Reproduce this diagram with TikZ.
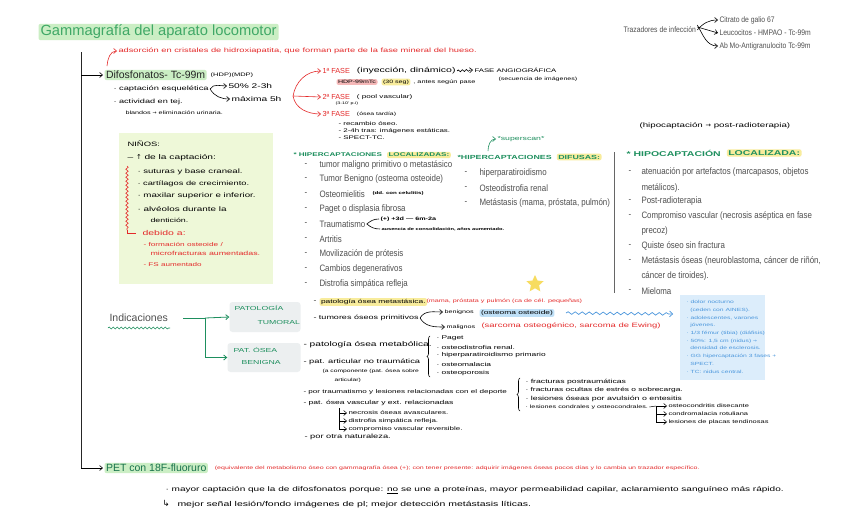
\documentclass[tikz,border=0pt]{standalone}
\usepackage{fontspec}
\setmainfont{Liberation Sans}
\newfontfamily\hand[FakeStretch=1.5]{Liberation Sans}
\newfontfamily\prnt[FakeStretch=0.85]{Liberation Sans}
\newfontfamily\dejavu{DejaVu Sans}
\usetikzlibrary{arrows.meta,decorations.pathmorphing,decorations.pathreplacing,shapes.geometric}
\definecolor{tgreen}{HTML}{1E8F5E}
\definecolor{ttitle}{HTML}{3FA866}
\definecolor{lgreen}{HTML}{CBEEC4}
\definecolor{tred}{HTML}{E42A2A}
\definecolor{tgray}{HTML}{4F4F4F}
\definecolor{nbg}{HTML}{EEF8D8}
\definecolor{bxgray}{HTML}{ECEFF0}
\definecolor{hyel}{HTML}{F8EC9C}
\definecolor{hblue}{HTML}{BFE0F7}
\definecolor{bbg}{HTML}{DCEDFB}
\definecolor{tblue}{HTML}{4A96DC}
\definecolor{hpink}{HTML}{F5B8B8}
\definecolor{starc}{HTML}{F7DC60}
\newcommand{\myfs}[1]{\fontsize{#1}{#1}\selectfont}
\newcommand{\myfsb}[2]{\fontsize{#1}{#2}\selectfont}
\newcommand{\arw}{{\dejavu →}}
\begin{document}
\begin{tikzpicture}[x=1pt,y=-1pt,
  lbl/.style={anchor=west,inner sep=0pt,outer sep=1.5pt},
  gtxt/.style={lbl,text=tgray,font=\prnt\myfs{9.3}},
  hw/.style={lbl,text=black,font=\hand\myfs{#1}},
  hw/.default=5,
  hwr/.style={lbl,text=tred,font=\hand\myfs{#1}},
  hwr/.default=5,
  hwg/.style={lbl,text=tgreen,font=\hand\myfs{#1}},
  hwg/.default=5,
  hwgb/.style={lbl,text=tgreen,font=\hand\bfseries\myfs{#1}},
  hwgb/.default=6,
  hlt/.style={fill=#1,rounded corners=2pt,inner xsep=1.5pt,inner ysep=1.2pt},
  arr/.style={-{Straight Barb[length=3pt,width=5pt]},line width=0.6pt},
  rarr/.style={arr,draw=tred},
  garr/.style={arr,draw=tgreen},
  bull/.style={lbl,text=tgray,font=\prnt\myfs{9.3}},
  gsmall/.style={lbl,text=tgray,font=\prnt\myfs{8}}
]
\useasboundingbox (0,0) rectangle (848,530);
\fill[white] (0,0) rectangle (848,530);

% ---------- title
\node[lbl,font=\myfs{14.7},text=ttitle,hlt=lgreen,inner xsep=2pt] (title) at (37,32) {Gammagrafía del aparato locomotor};

% ---------- main black line
\coordinate (ltop) at (81,52);
\coordinate (ldif) at (81,75);
\coordinate (lpet) at (81,468);
\draw[line width=0.8pt,black!85] (ltop) -- (lpet);

% ---------- difosfonatos
\node[lbl,font=\myfs{10.5},text=black!85,hlt=lgreen] (difos) at (103,75) {Difosfonatos- Tc-99m};
\node[hw=5] (hdp) at ([xshift=1pt]difos.east) {(HDP)(MDP)};
\draw[arr] (ldif) -- (difos.west);
\node[hwr=6.2] (adsor) at (117,51) {adsorción en cristales de hidroxiapatita, que forman parte de la fase mineral del hueso.};
\coordinate (adsor0) at (107,66);
\draw[rarr] (adsor0) to[out=85,in=180] (adsor.west);

\node[hw=6.2] (cap) at (112,89) {· captación esquelética};
\node[hw=6.8] (p50) at (227,86) {50\% 2-3h};
\node[hw=6.8] (max5) at (230,99) {máxima 5h};
\draw[arr] (cap.east) to[out=60,in=180] (p50.west);
\draw[arr] (cap.east) to[out=-60,in=180] (max5.west);
\node[hw=6.1] (act1) at (112,102) {· actividad en tej.};
\node[hw=4.8] (act2) at (124,113) {blandos \arw\ eliminación urinaria.};

% ---------- fases
\coordinate (fo) at (293,96);
\node[lbl,text=tred,font=\myfs{7.3}] (f1) at (321,71) {1ª FASE};
\node[hw=7] (f1b) at ([xshift=4pt]f1.east) {(inyección, dinámico)};
\node[hw=5.2] (fang) at (473,70) {FASE ANGIOGRÁFICA};
\draw[arr,decorate,decoration={snake,amplitude=1pt,segment length=4pt,post length=3pt}] (f1b.east) -- (fang.west);
\node[hw=4.7] (fsec) at (497,79) {(secuencia de imágenes)};
\node[hw=4.7,hlt=hpink] (fhdp) at (335,82) {HDP-99mTc};
\node[hw=4.7,hlt=hyel] (f30) at ([xshift=1pt]fhdp.east) {(30 seg)};
\node[hw=4.9] (fant) at (f30.east) {, antes según pase};
\node[lbl,text=tred,font=\myfs{7.3}] (f2) at (321,97) {2ª FASE};
\node[hw=5.4] (f2b) at ([xshift=4pt]f2.east) {( pool vascular)};
\node[hw=3.6] (f2c) at (334,104) {(3-10' p.i)};
\node[lbl,text=tred,font=\myfs{7.3}] (f3) at (321,114) {3ª FASE};
\node[hw=4.6] (f3b) at ([xshift=4pt]f3.east) {(ósea tardía)};
\node[hw=5.3] (f3i1) at (337,124) {- recambio óseo.};
\node[hw=5.3] (f3i2) at (337,131) {- 2-4h tras: imágenes estáticas.};
\node[hw=5.3] (f3i3) at (337,138) {- SPECT-TC.};
\draw[rarr] (fo) to[out=80,in=180] (f1.west);
\draw[rarr] (fo) -- (f2.west);
\draw[rarr] (fo) to[out=-80,in=180] (f3.west);

% ---------- trazadores de infeccion
\node[gsmall] (traz) at (622,30) {Trazadores de infección};
\node[gsmall] (g1) at (718,20) {Citrato de galio 67};
\node[gsmall] (g2) at (718,33) {Leucocitos - HMPAO - Tc-99m};
\node[gsmall] (g3) at (718,46) {Ab Mo-Antigranulocito Tc-99m};
\draw[arr] (traz.east) to[out=50,in=180] (g1.west);
\draw[arr] ([yshift=3pt]traz.east) -- (g2.west);
\draw[arr] ([yshift=5pt]traz.east) to[out=-60,in=180] (g3.west);

% ---------- ninos box
\node[anchor=north west,fill=nbg,minimum width=154pt,minimum height=151pt,inner sep=0] (nbox) at (119,133) {};
\node[hw=6.3] (n0) at (126,144) {NIÑOS:};
\node[hw=6.8] (n1) at (126,158) {– {\dejavu ↑} de la captación:};
\node[hw=6.4] (n2) at (136,172) {· suturas y base craneal.};
\node[hw=6.2] (n3) at (136,184) {· cartílagos de crecimiento.};
\node[hw=6.5] (n4) at (136,196) {· maxilar superior e inferior.};
\node[hw=6.6] (n5) at (136,209) {· alvéolos durante la};
\node[hw=5.9] (n6) at (149,220) {dentición.};
\node[hwr=7] (n7) at (141,233) {debido a:};
\node[hwr=5.5] (n8) at (142,244) {- formación osteoide /};
\node[hwr=5.9] (n9) at (149,253) {microfracturas aumentadas.};
\node[hwr=5.4] (n10) at (142,265) {- FS aumentado};
\draw[tred,line width=0.6pt,decorate,decoration={snake,amplitude=1.2pt,segment length=4pt}] (127,166) -- (127,230);
\draw[tred,line width=0.6pt] (127,230) -- (127,233) -- (136,233);

% ---------- hipercaptaciones localizadas
\node[hwgb=5.4] (hl1) at (292,155) {* HIPERCAPTACIONES};
\node[hwgb=5.4,hlt=hyel] (hl2) at ([xshift=2pt]hl1.east) {LOCALIZADAS:};
\foreach \yy in {165,179,194,209,224,239,254,269,284} \node[bull] at (303,\yy) {-};
\node[gtxt] (l1) at (318,165) {tumor maligno primitivo o metastásico};
\node[gtxt] (l2) at (318,179) {Tumor Benigno (osteoma osteoide)};
\node[gtxt] (l3) at (318,194) {Osteomielitis};
\node[hw=4.1,font=\hand\bfseries\myfs{4.1}] (l3b) at (371,193) {(dd. con celulitis)};
\node[gtxt] (l4) at (318,209) {Paget o displasia fibrosa};
\node[gtxt] (l5) at (318,224) {Traumatismo};
\node[hw=4.8,font=\hand\bfseries\myfs{4.8}] (tr1) at (379,219) {(+) +3d — 6m-2a};
\node[hw=3.8,font=\hand\bfseries\myfs{3.8}] (tr2) at (380,229) {ausencia de consolidación, años aumentado.};
\draw[line width=0.6pt] (l5.east) to[out=40,in=180] (tr1.west);
\draw[line width=0.6pt] (l5.east) to[out=-40,in=180] (tr2.west);
\node[gtxt] (l6) at (318,239) {Artritis};
\node[gtxt] (l7) at (318,254) {Movilización de prótesis};
\node[gtxt] (l8) at (318,269) {Cambios degenerativos};
\node[gtxt] (l9) at (318,284) {Distrofia simpática refleja};

% ---------- hipercaptaciones difusas
\coordinate (ss0) at (488,151);
\node[hwg=5.8] (sscan) at (496,139) {*superscan*};
\draw[garr] (ss0) to[out=90,in=180] (sscan.west);
\node[hwgb=5.9] (hd1) at (456,157) {*HIPERCAPTACIONES};
\node[hwgb=5.9,hlt=hyel] (hd2) at ([xshift=2pt]hd1.east) {DIFUSAS:};
\foreach \yy in {173,188,203} \node[bull] at (463,\yy) {-};
\node[gtxt] (d1) at (478,173) {hiperparatiroidismo};
\node[gtxt] (d2) at (478,188) {Osteodistrofia renal};
\node[gtxt] (d3) at (478,203) {Metástasis (mama, próstata, pulmón)};

\draw[line width=0.7pt,black!60] (614,152) -- (614,293);

% ---------- hipocaptacion
\node[hw=6.5] (hipo0) at (638,126) {(hipocaptación \arw\ post-radioterapia)};
\node[hwgb=7] (hp1) at (625,153) {* HIPOCAPTACIÓN};
\node[hwgb=7,hlt=hyel] (hp2) at ([xshift=3pt]hp1.east) {LOCALIZADA:};
\foreach \yy in {172,201,216,246,261,291} \node[bull] at (627,\yy) {-};
\node[gtxt] (h1) at (640,172) {atenuación por artefactos (marcapasos, objetos};
\node[gtxt] (h1b) at (640,188) {metálicos).};
\node[gtxt] (h2) at (640,201) {Post-radioterapia};
\node[gtxt] (h3) at (640,216) {Compromiso vascular (necrosis aséptica en fase};
\node[gtxt] (h3b) at (640,231) {precoz)};
\node[gtxt] (h4) at (640,246) {Quiste óseo sin fractura};
\node[gtxt] (h5) at (640,261) {Metástasis óseas (neuroblastoma, cáncer de riñón,};
\node[gtxt] (h5b) at (640,276) {cáncer de tiroides).};
\node[gtxt] (h6) at (640,291) {Mieloma};

% ---------- blue box
\node[anchor=north west,fill=bbg,minimum width=85pt,minimum height=85pt,inner sep=0] (bbox) at (680,295) {};
\node[lbl,text=tblue,anchor=north west,align=left,font={\hand\myfsb{4.5}{7.7}}] (btxt) at (685,299) {· dolor nocturno\\
\ \ (ceden con AINES).\\
· adolescentes, varones\\
\ \ jóvenes.\\
· 1/3 fémur (tibia) (diáfisis)\\
· 50\%: 1,5 cm (nidus) \arw\\
\ \ densidad de esclerosis.\\
· GG hipercaptación 3 fases +\\
\ \ SPECT.\\
· TC: nidus central.};

% ---------- star
\node[star,star points=5,star point ratio=2.1,fill=starc,minimum size=18pt,inner sep=0] (stara) at (535,284) {};

% ---------- indicaciones
\node[lbl,font=\myfs{10.5},text=tgray] (ind) at (108,318) {Indicaciones};
\draw[tgreen,line width=0.6pt,decorate,decoration={snake,amplitude=1pt,segment length=4pt}] (108,328) -- (170,328);
\node[fill=bxgray,rounded corners=3pt,minimum width=71pt,minimum height=30pt,inner sep=0] (ptum) at (265,317) {};
\node[hwg=5.8] (ptum1) at (233,308) {PATOLOGÍA};
\node[hwg=5.8] (ptum2) at (256,322) {TUMORAL};
\node[fill=bxgray,rounded corners=3pt,minimum width=73pt,minimum height=29pt,inner sep=0] (pben) at (264,357.5) {};
\node[hwg=5.8] (pben1) at (232,350) {PAT. ÓSEA};
\node[hwg=5.8] (pben2) at (240,362) {BENIGNA};
\coordinate (is) at (183,318);
\coordinate (ij) at (205,318);
\draw[tgreen,line width=0.8pt] (is) -- (ij);
\draw[garr,line width=0.8pt] (ij) -- (ptum.west);
\draw[garr,line width=0.8pt] (ij) |- (pben.west);

% tumoral
\node[hw=5.8] (tu0) at (312,302) {-};
\node[hw=5.6,hlt=hyel] (tu1) at (318,302) {patología ósea metastásica.};
\node[hwr=4.8] (tu1r) at (425,301) {(mama, próstata y pulmón (ca de cél. pequeñas)};
\node[hw=6] (tu2) at (312,318) {- tumores óseos primitivos};
\node[hw=4.8] (ben) at (443,312) {benignos};
\node[hw=5.6,hlt=hblue] (beno) at (478,313) {(osteoma osteoide)};
\node[hw=4.8] (mal) at (445,327) {malignos};
\node[hwr=6.3] (malr) at (480,326) {(sarcoma osteogénico, sarcoma de Ewing)};
\draw[arr] (tu2.east) to[out=60,in=180] (ben.west);
\draw[arr] (tu2.east) to[out=-60,in=180] (mal.west);
\coordinate (bw0) at (566,313);
\coordinate (bw1) at (673,314);
\draw[tblue,line width=0.7pt,-{Straight Barb[length=3pt]},decorate,decoration={snake,amplitude=1.3pt,segment length=7pt,post length=4pt}] (bw0) -- (bw1);

% benigna
\node[hw=6.8] (be1) at (302,345) {- patología ósea metabólica.};
\node[hw=6.2] (be2) at (302,362) {- pat. articular no traumática};
\node[hw=4.5] (be2b) at (321,371) {(a componente (pat. ósea sobre};
\node[hw=4.5] (be2c) at (333,380) {articular)};
\node[hw=5.4] (be3) at (302,392) {- por traumatismo y lesiones relacionadas con el deporte};
\node[hw=5.7] (be4) at (302,403) {- pat. ósea vascular y ext. relacionadas};
\node[hw=5.3] (be4a) at (347,413) {necrosis óseas avasculares.};
\node[hw=5.3] (be4b) at (347,421) {distrofia simpática refleja.};
\node[hw=5.3] (be4c) at (347,429) {compromiso vascular reversible.};
\coordinate (vtop) at (339,408);
\coordinate (vbot) at (339,429);
\draw[line width=0.5pt] (vtop) -- (vbot);
\draw[arr,line width=0.5pt] (vtop |- be4a.west) -- (be4a.west);
\draw[arr,line width=0.5pt] (vtop |- be4b.west) -- (be4b.west);
\draw[arr,line width=0.5pt] (vbot) -- (be4c.west);
\node[hw=6.2] (be5) at (303,437) {- por otra naturaleza.};

\draw[line width=0.6pt,decorate,decoration={brace,amplitude=3pt}] (430,377) -- (430,336);
\node[hw=5.6] (m1) at (435,338) {· Paget};
\node[hw=5.6] (m2) at (435,347) {· osteodistrofia renal.};
\node[hw=5.6] (m3) at (435,355) {· hiperparatiroidismo primario};
\node[hw=5.6] (m4) at (435,364) {· osteomalacia};
\node[hw=5.6] (m5) at (435,373) {· osteoporosis};

\draw[line width=0.6pt,decorate,decoration={brace,amplitude=3pt}] (520,411) -- (520,378);
\node[hw=5.8] (t1) at (524,382) {· fracturas postraumáticas};
\node[hw=5.6] (t2) at (524,390) {· fracturas ocultas de estrés o sobrecarga.};
\node[hw=5.9] (t3) at (524,399) {· lesiones óseas por avulsión o entesitis};
\node[hw=4.8] (t4) at (524,407) {· lesiones condrales y osteocondrales.};
\node[hw=5] (c1) at (667,406) {osteocondritis disecante};
\node[hw=5] (c2) at (667,414) {condromalacia rotuliana};
\node[hw=5] (c3) at (667,422) {lesiones de placas tendinosas};
\coordinate (cj) at (656,406);
\coordinate (cb) at (656,422);
\draw[line width=0.5pt] (t4.east) -- (cj);
\draw[arr,line width=0.5pt] (cj) -- (c1.west);
\draw[line width=0.5pt] (cj) -- (cb);
\draw[arr,line width=0.5pt] (cj |- c2.west) -- (c2.west);
\draw[arr,line width=0.5pt] (cb) -- (c3.west);

% ---------- PET
\node[lbl,font=\myfs{10.5},text=tgreen!80!black,hlt=lgreen] (pet) at (103,468) {PET con 18F-fluoruro};
\draw[arr] (lpet) -- (pet.west);
\node[hwr=4.7] (petr) at ([xshift=4pt]pet.east) {(equivalente del metabolismo óseo con gammagrafía ósea (+); con tener presente: adquirir imágenes óseas pocos días y lo cambia un trazador específico.};
\node[hw=6.7] (pet1) at (164,490) {· mayor captación que la de difosfonatos porque: \underline{no} se une a proteínas, mayor permeabilidad capilar, aclaramiento sanguíneo más rápido.};
\node[lbl,font=\dejavu\myfs{8.5}] (pethook) at (161,503) {↳};
\node[hw=7] (pet2) at (176,505) {mejor señal lesión/fondo imágenes de pl; mejor detección metástasis líticas.};
\end{tikzpicture}
\end{document}
